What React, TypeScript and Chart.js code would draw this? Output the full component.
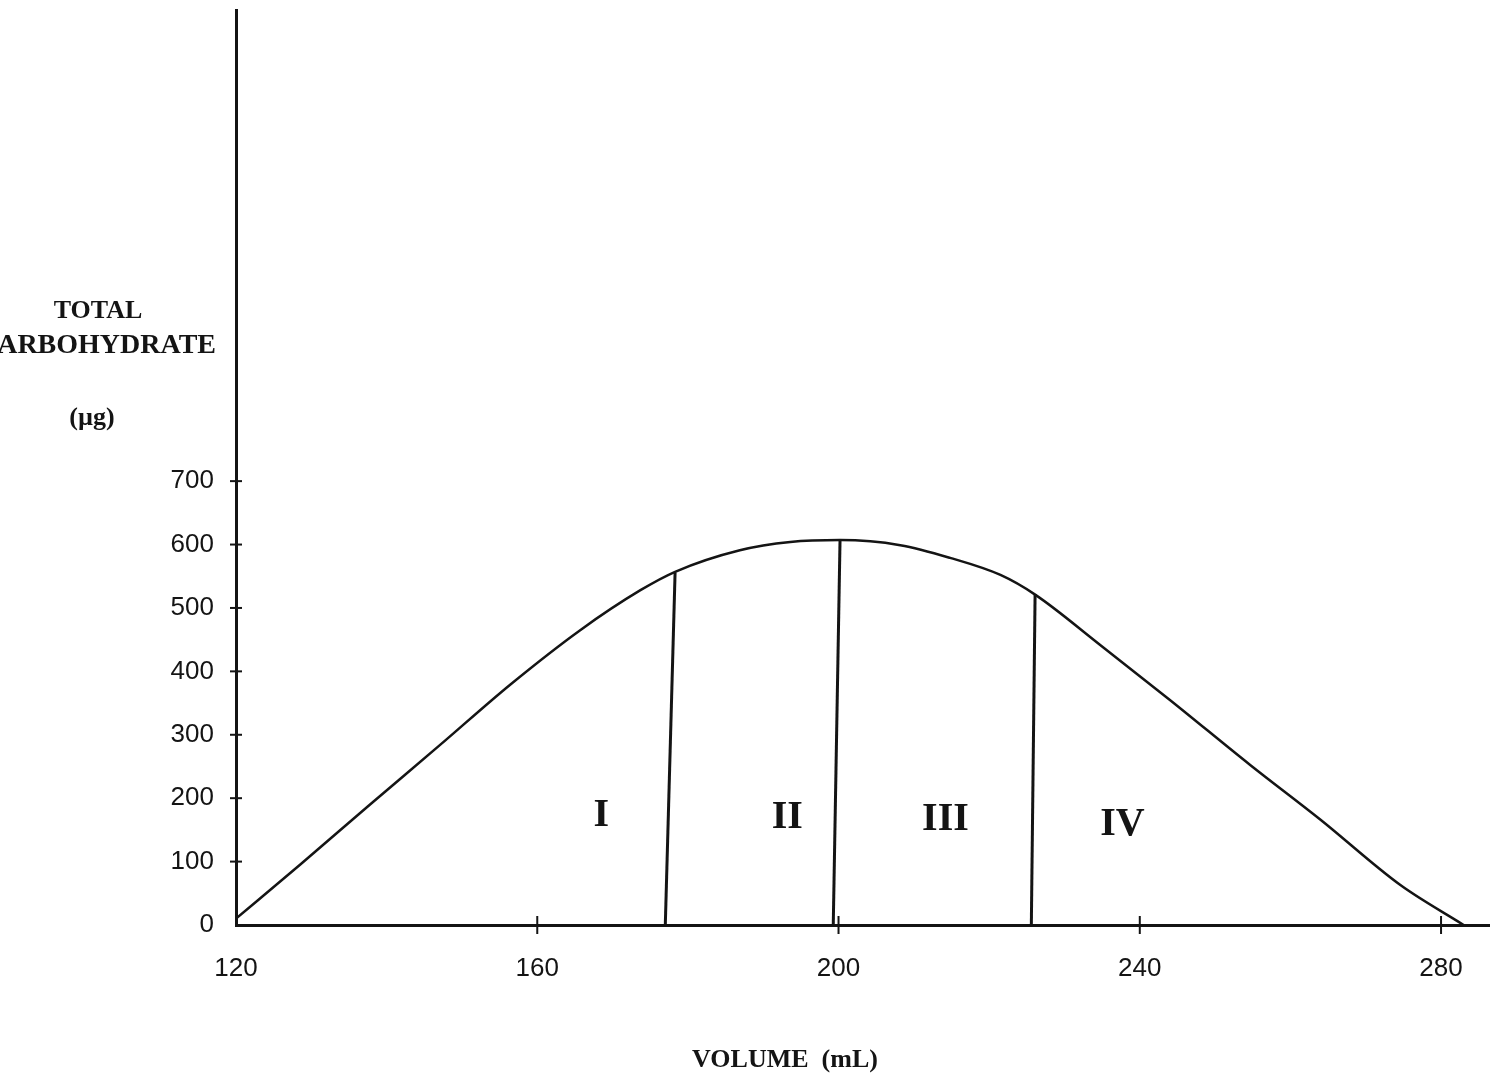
import React, { useEffect, useRef } from "react";
import { Chart, registerables } from "chart.js";

Chart.register(...registerables);

// ---- data ----
const volume = [120, 128.5, 137.8, 147.1, 156.4, 165.7, 173.7, 178.3, 186.9, 193.6, 200.2, 208.2, 214.8, 221.5, 226.1, 234.7, 244.0, 254.7, 264.0, 274.6, 283.0];
const carbohydrate = [10, 95, 190, 284, 379, 465, 528, 557, 591, 604, 607, 599, 579, 552, 521, 442, 355, 252, 166, 63, 0];

const xTicks = [120, 160, 200, 240, 280];
const yTicks = [0, 100, 200, 300, 400, 500, 600, 700];

const dividerBottomX = [177.0, 199.3, 225.6];
const dividerTopX = [178.3, 200.2, 226.1];
const dividerTopY = [556, 607, 522];

const regionLabels = ["I", "II", "III", "IV"];
const regionX = [168.5, 193.2, 214.2, 237.7];
const regionY = [173, 169, 166, 158];

const yTitleLines = ["TOTAL", "CARBOHYDRATE", "(µg)"];
const xTitle = "VOLUME  (mL)";

const INK = "#141414";

const overlay = {
  id: "overlay",
  afterDraw(chart: any) {
    const { ctx } = chart;
    const x = chart.scales.x;
    const y = chart.scales.y;
    ctx.save();
    ctx.strokeStyle = INK;
    ctx.lineWidth = 2;
    yTicks.forEach((v) => {
      if (v === 0) return;
      const py = y.getPixelForValue(v);
      ctx.beginPath();
      ctx.moveTo(x.left - 6, py);
      ctx.lineTo(x.left + 6, py);
      ctx.stroke();
    });
    xTicks.forEach((v) => {
      if (v === 120) return;
      const px = x.getPixelForValue(v);
      ctx.beginPath();
      ctx.moveTo(px, y.bottom - 9);
      ctx.lineTo(px, y.bottom + 9);
      ctx.stroke();
    });
    ctx.fillStyle = INK;
    ctx.textAlign = "center";
    ctx.textBaseline = "middle";
    ctx.font = 'bold 40px "Liberation Serif"';
    regionLabels.forEach((t, i) => {
      ctx.fillText(t, x.getPixelForValue(regionX[i]), y.getPixelForValue(regionY[i]));
    });
    ctx.font = 'bold 26px "Liberation Serif"';
    ctx.fillText(yTitleLines[0], 98, 311);
    ctx.fillText(yTitleLines[2], 92, 418);
    ctx.fillText(xTitle, 785, 1060);
    ctx.font = 'bold 28px "Liberation Serif"';
    ctx.textAlign = "right";
    ctx.fillText(yTitleLines[1], 216, 346);
    ctx.restore();
  },
};

export default function App() {
  const ref = useRef<HTMLCanvasElement | null>(null);

  useEffect(() => {
    if (!ref.current) return;
    const dividers = dividerBottomX.map((bx, i) => ({
      data: [
        { x: bx, y: 0 },
        { x: dividerTopX[i], y: dividerTopY[i] },
      ],
      borderColor: INK,
      borderWidth: 3,
      pointRadius: 0,
      tension: 0,
    }));
    const chart = new Chart(ref.current, {
      type: "line",
      data: {
        datasets: [
          {
            data: volume.map((v, i) => ({ x: v, y: carbohydrate[i] })),
            borderColor: INK,
            borderWidth: 2.5,
            pointRadius: 0,
            tension: 0.4,
            cubicInterpolationMode: "monotone",
          },
          ...dividers,
        ] as any,
      },
      options: {
        animation: false,
        responsive: false,
        devicePixelRatio: 1,
        layout: { padding: { top: 10, right: 0, left: 0, bottom: 0 } },
        plugins: { legend: { display: false }, tooltip: { enabled: false } },
        scales: {
          x: {
            type: "linear",
            min: 120,
            max: 286.5,
            afterBuildTicks: (s: any) => {
              s.ticks = xTicks.map((v) => ({ value: v }));
            },
            afterFit: (s: any) => {
              s.height = 152;
              s.paddingLeft = 0;
              s.paddingRight = 0;
            },
            grid: { display: false, drawTicks: false },
            border: { display: true, color: INK, width: 3 },
            ticks: {
              color: INK,
              padding: 28,
              maxRotation: 0,
              font: { family: '"Liberation Sans"', size: 26 },
            },
          },
          y: {
            type: "linear",
            min: 0,
            max: 1443,
            afterBuildTicks: (s: any) => {
              s.ticks = yTicks.map((v) => ({ value: v }));
            },
            afterFit: (s: any) => {
              s.width = 236;
              s.paddingTop = 0;
              s.paddingBottom = 0;
            },
            grid: { display: false, drawTicks: false },
            border: { display: true, color: INK, width: 3 },
            ticks: {
              color: INK,
              padding: 22,
              font: { family: '"Liberation Sans"', size: 26 },
            },
          },
        },
      },
      plugins: [overlay],
    });
    return () => chart.destroy();
  }, []);

  return (
    <div style={{ position: "absolute", left: 0, top: 0, width: 1490, height: 1077, background: "#fff" }}>
      <canvas ref={ref} width={1490} height={1077} style={{ width: 1490, height: 1077, display: "block" }} />
    </div>
  );
}
